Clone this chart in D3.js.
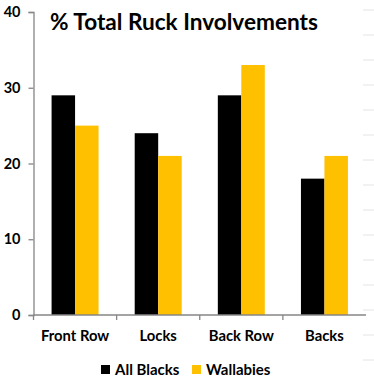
<!DOCTYPE html>
<html>
<head>
<meta charset="utf-8">
<script src="https://cdn.jsdelivr.net/npm/d3@7"></script>
<style>
  html, body { margin: 0; padding: 0; background: #fff; }
  svg { display: block; }
</style>
</head>
<body>
<div id="chart"></div>
<script>
// chart data
const categories = ['Front Row', 'Locks', 'Back Row', 'Backs']
const seriesNames = ['All Blacks', 'Wallabies']
const allBlacks = [29, 24, 29, 18]
const wallabies = [25, 21, 33, 21]
const yTicks = [0, 10, 20, 30, 40]
const title = '% Total Ruck Involvements'

const colors = { 'All Blacks': '#000000', 'Wallabies': '#FFC000' }
const axisColor = '#868686'
const font = 'Lato, "Open Sans", sans-serif'

const W = 374, H = 385
const plot = { left: 33.5, right: 366, top: 12, bottom: 315 }

const svg = d3.select('#chart').append('svg')
  .attr('width', W)
  .attr('height', H)

// scales
const x0 = d3.scaleBand()
  .domain(categories)
  .range([plot.left, plot.right])
  .paddingInner(0.435)
  .paddingOuter(0.2175)
const x1 = d3.scaleBand()
  .domain(seriesNames)
  .range([0, x0.bandwidth()])
const y = d3.scaleLinear().domain([0, 40]).range([plot.bottom, plot.top])

// bars
const rows = categories.map((c, i) => ({
  category: c,
  values: [
    { series: 'All Blacks', value: allBlacks[i] },
    { series: 'Wallabies', value: wallabies[i] },
  ],
}))

svg.append('g')
  .selectAll('g')
  .data(rows)
  .join('g')
  .attr('transform', d => `translate(${x0(d.category)},0)`)
  .selectAll('rect')
  .data(d => d.values)
  .join('rect')
  .attr('x', d => x1(d.series))
  .attr('y', d => y(d.value))
  .attr('width', x1.bandwidth())
  .attr('height', d => y(0) - y(d.value))
  .attr('fill', d => colors[d.series])

// y axis
const yAxis = svg.append('g')
  .attr('transform', `translate(${plot.left},0)`)
  .call(d3.axisLeft(y).tickValues(yTicks).tickSize(5).tickPadding(8))
yAxis.select('.domain').attr('stroke', axisColor).attr('stroke-width', 1.3)
yAxis.selectAll('.tick line').attr('stroke', axisColor).attr('stroke-width', 1.3)
yAxis.selectAll('.tick text')
  .attr('fill', '#000')
  .style('font-family', font)
  .style('font-weight', 'bold')
  .style('font-size', '14.5px')

// x axis: ticks on category boundaries
const bounds = categories.map(c => x0(c) - x0.step() * x0.paddingOuter())
const xAxis = svg.append('g').attr('transform', `translate(0,${plot.bottom})`)
xAxis.append('line')
  .attr('x1', plot.left).attr('x2', plot.right)
  .attr('stroke', axisColor).attr('stroke-width', 1.3)
xAxis.selectAll('line.tick')
  .data(bounds)
  .join('line')
  .attr('class', 'tick')
  .attr('x1', d => d).attr('x2', d => d)
  .attr('y1', 0).attr('y2', 5)
  .attr('stroke', axisColor).attr('stroke-width', 1.3)
xAxis.selectAll('text')
  .data(categories)
  .join('text')
  .attr('x', d => x0(d) + x0.bandwidth() / 2)
  .attr('y', 25.5)
  .attr('text-anchor', 'middle')
  .style('font-family', font)
  .style('font-weight', 'bold')
  .style('font-size', '14.8px')
  .text(d => d)

// title
svg.append('text')
  .attr('x', 50)
  .attr('y', 30)
  .style('font-family', font)
  .style('font-weight', 'bold')
  .style('font-size', '22.6px')
  .text(title)

// legend
const legendX = [101, 192]
const legend = svg.append('g')
  .selectAll('g')
  .data(seriesNames)
  .join('g')
  .attr('transform', (d, i) => `translate(${legendX[i]},365)`)
legend.append('rect')
  .attr('width', 9).attr('height', 9)
  .attr('fill', d => colors[d])
legend.append('text')
  .attr('x', 14)
  .attr('y', 9.5)
  .style('font-family', font)
  .style('font-weight', 'bold')
  .style('font-size', '15px')
  .text(d => d)

// faint marks along the right edge of the crop
svg.append('g')
  .selectAll('line')
  .data(d3.range(10, 385, 25))
  .join('line')
  .attr('x1', 363).attr('x2', 374)
  .attr('y1', d => d).attr('y2', d => d)
  .attr('stroke', '#e4e4e4')
</script>
</body>
</html>
